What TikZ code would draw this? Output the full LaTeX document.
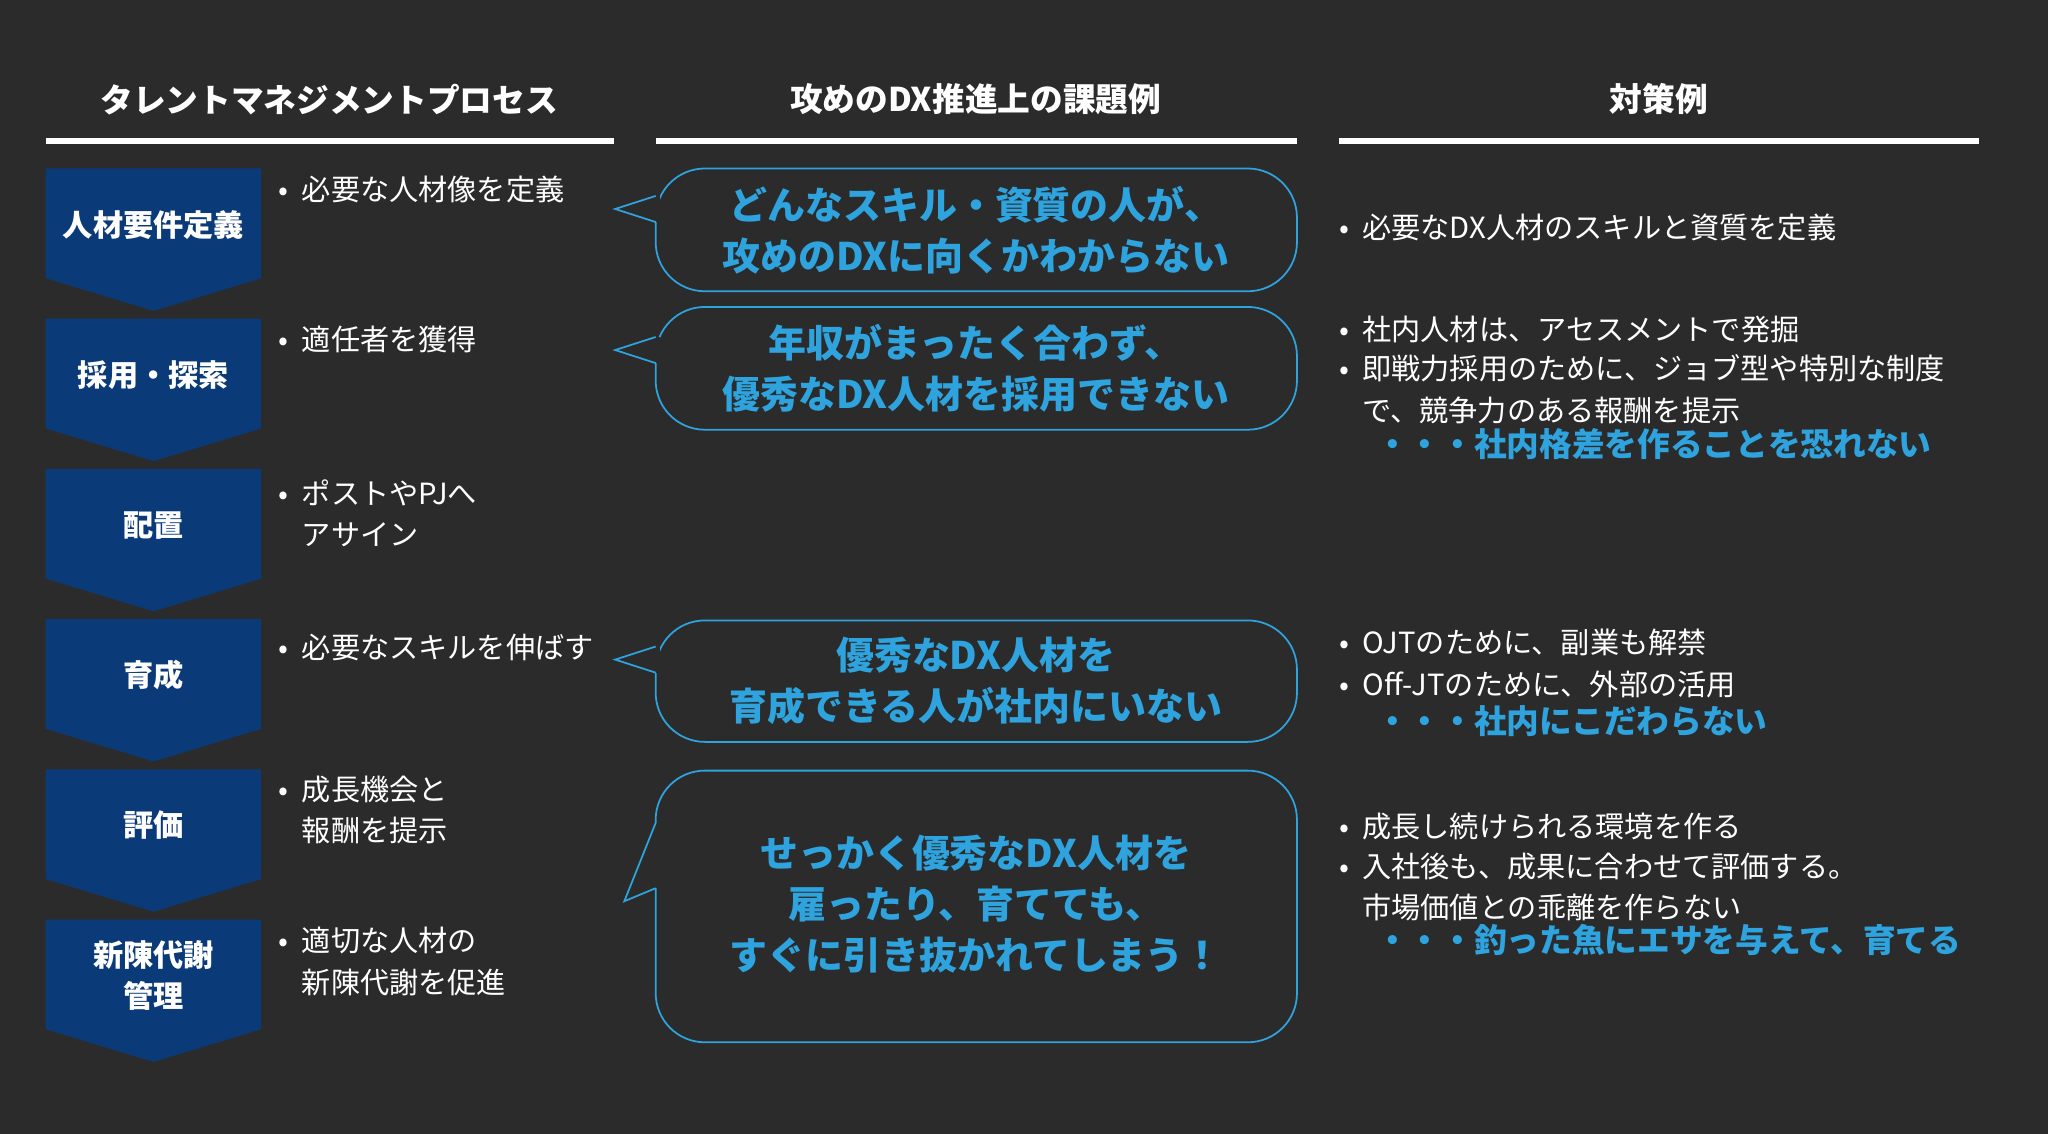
\documentclass[tikz,border=0pt]{standalone}
\usepackage{fontspec}
\setmainfont{Noto Sans CJK JP}
\definecolor{bgdark}{HTML}{2B2B2B}
\definecolor{stepblue}{HTML}{0B3A78}
\definecolor{accent}{HTML}{2EA3DD}
\begin{document}
\begin{tikzpicture}[x=0.01306cm,y=-0.01306cm,
  head/.style={text=white, font=\fontsize{9.3}{12}\selectfont\bfseries},
  stepbox/.style={fill=stepblue},
  steplabel/.style={text=white, align=center, font=\fontsize{8.6}{11.5}\selectfont\bfseries},
  item/.style={text=white, anchor=west, align=left, font=\fontsize{8.3}{11.8}\selectfont},
  callout/.style={draw=accent, line width=0.5pt},
  calltext/.style={text=accent, align=center, font=\fontsize{10.8}{14.5}\selectfont\bfseries},
  bluetext/.style={text=accent, anchor=west, font=\fontsize{9.3}{12}\selectfont\bfseries}]
% background
\fill[bgdark] (0,0) rectangle (1568,868);
\useasboundingbox (0,0) rectangle (1568,868);
% headers
\node[head] (h1) at (252,76) {タレントマネジメントプロセス};
\node[head] (h2) at (747,76) {攻めのDX推進上の課題例};
\node[head] (h3) at (1270,76) {対策例};
\draw[white, line width=1.5pt] (35,108) -- (470,108);
\draw[white, line width=1.5pt] (502,108) -- (993,108);
\draw[white, line width=1.5pt] (1025,108) -- (1515,108);
% process steps
\foreach \y/\lab/\name in {129/人材要件定義/s1, 244/採用・探索/s2, 359/配置/s3, 474/育成/s4, 589/評価/s5, 704/新陳代謝\\管理/s6}{
  \fill[stepbox] (35,\y) -- (200,\y) -- (200,\y+84) -- (117.5,\y+109) -- (35,\y+84) -- cycle;
  \node[steplabel] (\name) at (117.5,\y+43) {\lab};
}
% step items
\node[item] (i1) at (204,145) {•\ \ 必要な人材像を定義};
\node[item] (i2) at (204,260) {•\ \ 適任者を獲得};
\node[item] (i3) at (204,393) {•\ \ ポストやPJへ\\\phantom{•\ \ }アサイン};
\node[item] (i4) at (204,496) {•\ \ 必要なスキルを伸ばす};
\node[item] (i5) at (204,620) {•\ \ 成長機会と\\\phantom{•\ \ }報酬を提示};
\node[item] (i6) at (204,736) {•\ \ 適切な人材の\\\phantom{•\ \ }新陳代謝を促進};
% callouts
\foreach \top/\bot/\ta/\tb/\tx/\ty in {129/223/150/170/471/160, 235/329/258/278/471/268, 475/568/495/515/471/505, 590/798/630/680/478/690}{
  \draw[callout, rounded corners=14pt] (502,\top) rectangle (993,\bot);
  \fill[bgdark] (499,\ta) rectangle (505,\tb);
  \draw[callout, line join=miter] (502,\ta) -- (\tx,\ty) -- (502,\tb);
}
\node[calltext] (c1) at (747,176) {どんなスキル・資質の人が、\\攻めのDXに向くかわからない};
\node[calltext] (c2) at (747,282) {年収がまったく合わず、\\優秀なDX人材を採用できない};
\node[calltext] (c3) at (747,521) {優秀なDX人材を\\育成できる人が社内にいない};
\node[calltext] (c4) at (747,692) {せっかく優秀なDX人材を\\雇ったり、育てても、\\すぐに引き抜かれてしまう！};
% measures
\node[item] (m1) at (1016,174) {•\ \ 必要なDX人材のスキルと資質を定義};
\node[item] (m2) at (1016,252) {•\ \ 社内人材は、アセスメントで発掘};
\node[item] (m3) at (1016,298) {•\ \ 即戦力採用のために、ジョブ型や特別な制度\\\phantom{•\ \ }で、競争力のある報酬を提示};
\node[bluetext] (b1) at (1044,340) {・・・社内格差を作ることを恐れない};
\node[item] (m4) at (1016,492) {•\ \ OJTのために、副業も解禁};
\node[item] (m5) at (1016,524) {•\ \ Off-JTのために、外部の活用};
\node[bluetext] (b2) at (1044,552) {・・・社内にこだわらない};
\node[item] (m6) at (1016,633) {•\ \ 成長し続けられる環境を作る};
\node[item] (m7) at (1016,679) {•\ \ 入社後も、成果に合わせて評価する。\\\phantom{•\ \ }市場価値との乖離を作らない};
\node[bluetext] (b3) at (1044,720) {・・・釣った魚にエサを与えて、育てる};
\end{tikzpicture}
\end{document}
